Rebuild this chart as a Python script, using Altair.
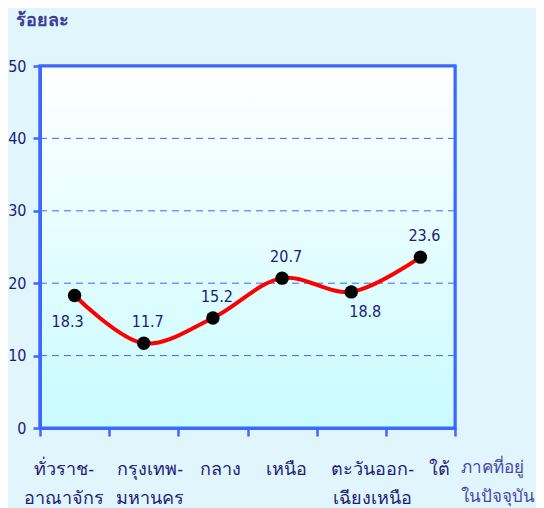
import altair as alt
import pandas as pd

regions = ["ทั่วราช-|อาณาจักร", "กรุงเทพ-|มหานคร", "กลาง", "เหนือ", "ตะวันออก-|เฉียงเหนือ", "ใต้"]
values = [18.3, 11.7, 15.2, 20.7, 18.8, 23.6]
y_ticks = [0, 10, 20, 30, 40, 50]
labels_below_left = ["ทั่วราช-|อาณาจักร"]
labels_below_right = ["ตะวันออก-|เฉียงเหนือ"]

df = pd.DataFrame({"region": regions, "value": values})
df["txt"] = df["value"].map(lambda v: f"{v:.1f}")
grid_df = pd.DataFrame({"tick": y_ticks[1:-1]})

BLUE = "#3b68ff"
NAVY = "#1c1c78"
FONT = "Tahoma, DejaVu Sans Condensed, DejaVu Sans, sans-serif"
NUMFONT = "DejaVu Sans Condensed, DejaVu Sans, sans-serif"

# horizontal nudges of the category labels, as placed in the original
label_nudge = {"ทั่วราช-|อาณาจักร": -11, "กรุงเทพ-|มหานคร": 6, "กลาง": 7,
               "เหนือ": 4, "ตะวันออก-|เฉียงเหนือ": 21, "ใต้": 19}
label_offset = {
    "condition": [{"test": f"datum.value == '{k}'", "value": v} for k, v in label_nudge.items()],
    "value": 0,
}

xenc = alt.X(
    "region:N", sort=regions, bandPosition=0.5,
    scale=alt.Scale(type="band", paddingInner=0, paddingOuter=0),
    axis=alt.Axis(
        title=["ภาคที่อยู่", "ในปัจจุบัน"], titleX=420, titleY=31, titleAlign="left",
        titleBaseline="top", titleFontSize=17, titleFontWeight="normal", titleColor="#4646a8",
        titleLineHeight=29, titleFont=FONT,
        labelAngle=0, labelExpr="split(datum.label, '|')", labelFontSize=18, labelColor=NAVY,
        labelPadding=24, labelLineHeight=29, labelFont=FONT, labelOffset=label_offset,
        tickBand="extent", tickSize=8, tickWidth=2.5, tickColor=BLUE,
        domainColor=BLUE, domainWidth=3, grid=False, zindex=1,
    ),
)
yscale = alt.Scale(domain=[0, 50], nice=False)
yenc = alt.Y(
    "value:Q", scale=yscale,
    axis=alt.Axis(
        values=y_ticks, title="ร้อยละ", titleAngle=0, titleAlign="left", titleBaseline="middle",
        titleX=-25, titleY=-46, titleFontSize=18, titleFontWeight="bold", titleColor="#3d3d9a",
        titleFont=FONT, labelFontSize=16, labelColor=NAVY, labelPadding=7, labelFont=NUMFONT,
        tickSize=7, tickWidth=2.5, tickColor=BLUE, domainColor=BLUE, domainWidth=3,
        grid=False, zindex=1,
    ),
)

gradient = alt.LinearGradient(
    gradient="linear",
    stops=[alt.GradientStop(color="#ffffff", offset=0), alt.GradientStop(color="#c9fbff", offset=1)],
    x1=0, x2=0, y1=0, y2=1,
)

bg = alt.Chart(pd.DataFrame({"a": [0]})).mark_rect(
    fill=gradient, stroke=BLUE, strokeWidth=3
).encode(
    x=alt.value(0), x2=alt.value(415), y=alt.datum(50, scale=yscale), y2=alt.datum(0)
)
grid = alt.Chart(grid_df).mark_rule(color=BLUE, strokeDash=[7, 5], strokeWidth=1).encode(
    y=alt.Y("tick:Q", scale=yscale)
)

base = alt.Chart(df).encode(x=xenc, y=yenc)
line = base.mark_line(color="#ff0000", strokeWidth=4, interpolate="catmull-rom")
pts = base.mark_circle(color="#000000", opacity=1, size=180)

txt_style = dict(fontSize=16, color=NAVY, font=NUMFONT)
above = base.transform_filter(
    ~alt.FieldOneOfPredicate(field="region", oneOf=labels_below_left + labels_below_right)
).mark_text(dy=-21, dx=4, **txt_style).encode(text="txt:N")
below_l = base.transform_filter(
    alt.FieldOneOfPredicate(field="region", oneOf=labels_below_left)
).mark_text(dy=26, dx=-7, **txt_style).encode(text="txt:N")
below_r = base.transform_filter(
    alt.FieldOneOfPredicate(field="region", oneOf=labels_below_right)
).mark_text(dy=20, dx=14, **txt_style).encode(text="txt:N")

chart = alt.layer(bg, grid, line, pts, above, below_l, below_r).properties(
    width=415, height=362,
    autosize=alt.AutoSizeParams(type="none"),
    padding={"left": 32, "top": 58, "right": 81, "bottom": 80},
    background="#e1f5fd",
).configure_view(stroke=BLUE, strokeWidth=3)

chart.save("out.html", embed_options={"renderer": "svg", "actions": False})
